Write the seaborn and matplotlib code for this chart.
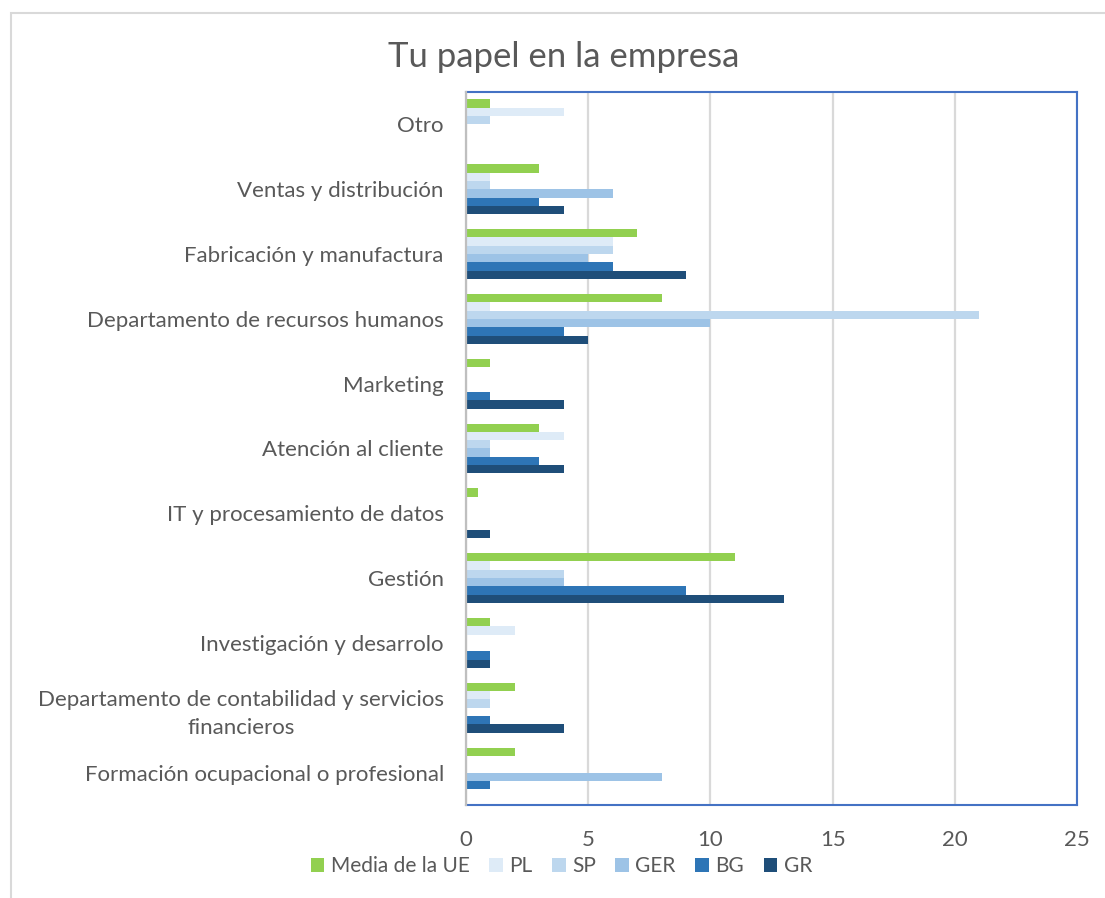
import matplotlib
matplotlib.use("Agg")
import matplotlib.pyplot as plt
from matplotlib.patches import Rectangle, Patch
import seaborn as sns
import pandas as pd

# Categories, listed top to bottom as they appear on the chart
categorias = [
    "Otro",
    "Ventas y distribución",
    "Fabricación y manufactura",
    "Departamento de recursos humanos",
    "Marketing",
    "Atención al cliente",
    "IT y procesamiento de datos",
    "Gestión",
    "Investigación y desarrolo",
    "Departamento de contabilidad y servicios\nfinancieros",
    "Formación ocupacional o profesional",
]

series = ["Media de la UE", "PL", "SP", "GER", "BG", "GR"]

media_ue = [1, 3, 7, 8, 1, 3, 0.5, 11, 1, 2, 2]
pl       = [4, 1, 6, 1, 0, 4, 0, 1, 2, 1, 0]
sp       = [1, 1, 6, 21, 0, 1, 0, 4, 0, 1, 0]
ger      = [0, 6, 5, 10, 0, 1, 0, 4, 0, 0, 8]
bg       = [0, 3, 6, 4, 1, 3, 0, 9, 1, 1, 1]
gr       = [0, 4, 9, 5, 4, 4, 1, 13, 1, 4, 0]

colores = ["#92D050", "#DEEBF7", "#BDD7EE", "#9DC3E6", "#2E75B6", "#1F4E79"]

valores = [media_ue, pl, sp, ger, bg, gr]
df = pd.DataFrame(
    [(c, s, v) for s, vals in zip(series, valores) for c, v in zip(categorias, vals)],
    columns=["categoria", "serie", "valor"],
)

sns.set_theme(style="white")
plt.rcParams["font.family"] = ["Lato", "DejaVu Sans"]
texto = "#595959"

fig = plt.figure(figsize=(11.05, 8.98), dpi=100)
ax = fig.add_axes([466 / 1105, 1 - 805 / 898, (1077 - 466) / 1105, (805 - 92) / 898])

sns.barplot(
    data=df, x="valor", y="categoria", hue="serie", orient="h",
    order=categorias, hue_order=series, palette=colores,
    saturation=1, width=0.77, linewidth=0, ax=ax, legend=False,
)

ax.set_xlim(0, 25)
ax.set_xticks([0, 5, 10, 15, 20, 25])
ax.set_xlabel("")
ax.set_ylabel("")
ax.xaxis.grid(True, color="#D9D9D9", linewidth=1.6)
ax.yaxis.grid(False)
ax.set_axisbelow(True)

for side in ["top", "right", "bottom"]:
    ax.spines[side].set_color("#4472C4")
    ax.spines[side].set_linewidth(1.5)
ax.spines["left"].set_color("#BFBFBF")
ax.spines["left"].set_linewidth(1.6)
ax.spines["left"].set_zorder(5)

ax.tick_params(axis="y", length=0, pad=16, labelsize=16, labelcolor=texto)
ax.tick_params(axis="x", length=0, pad=18, labelsize=16, labelcolor=texto)
for lbl in ax.get_yticklabels():
    lbl.set_multialignment("center")
    lbl.set_linespacing(1.5)

fig.text(0.51, 1 - 57 / 898, "Tu papel en la empresa", ha="center", va="center",
         fontsize=25, color=texto)

handles = [Patch(facecolor=c, edgecolor="none") for c in colores]
fig.legend(handles, series, loc="center", bbox_to_anchor=(0.508, 1 - 866 / 898),
           ncol=6, frameon=False, fontsize=15, labelcolor=texto,
           handlelength=0.65, handleheight=0.65, handletextpad=0.3, columnspacing=0.95)

# outer chart border
fig.add_artist(Rectangle((11 / 1105, -0.1), 1.2, 1 - 13 / 898 + 0.1,
                         transform=fig.transFigure, fill=False,
                         edgecolor="#D9D9D9", linewidth=1.5, clip_on=False))

fig.savefig("out.png", dpi=100)
